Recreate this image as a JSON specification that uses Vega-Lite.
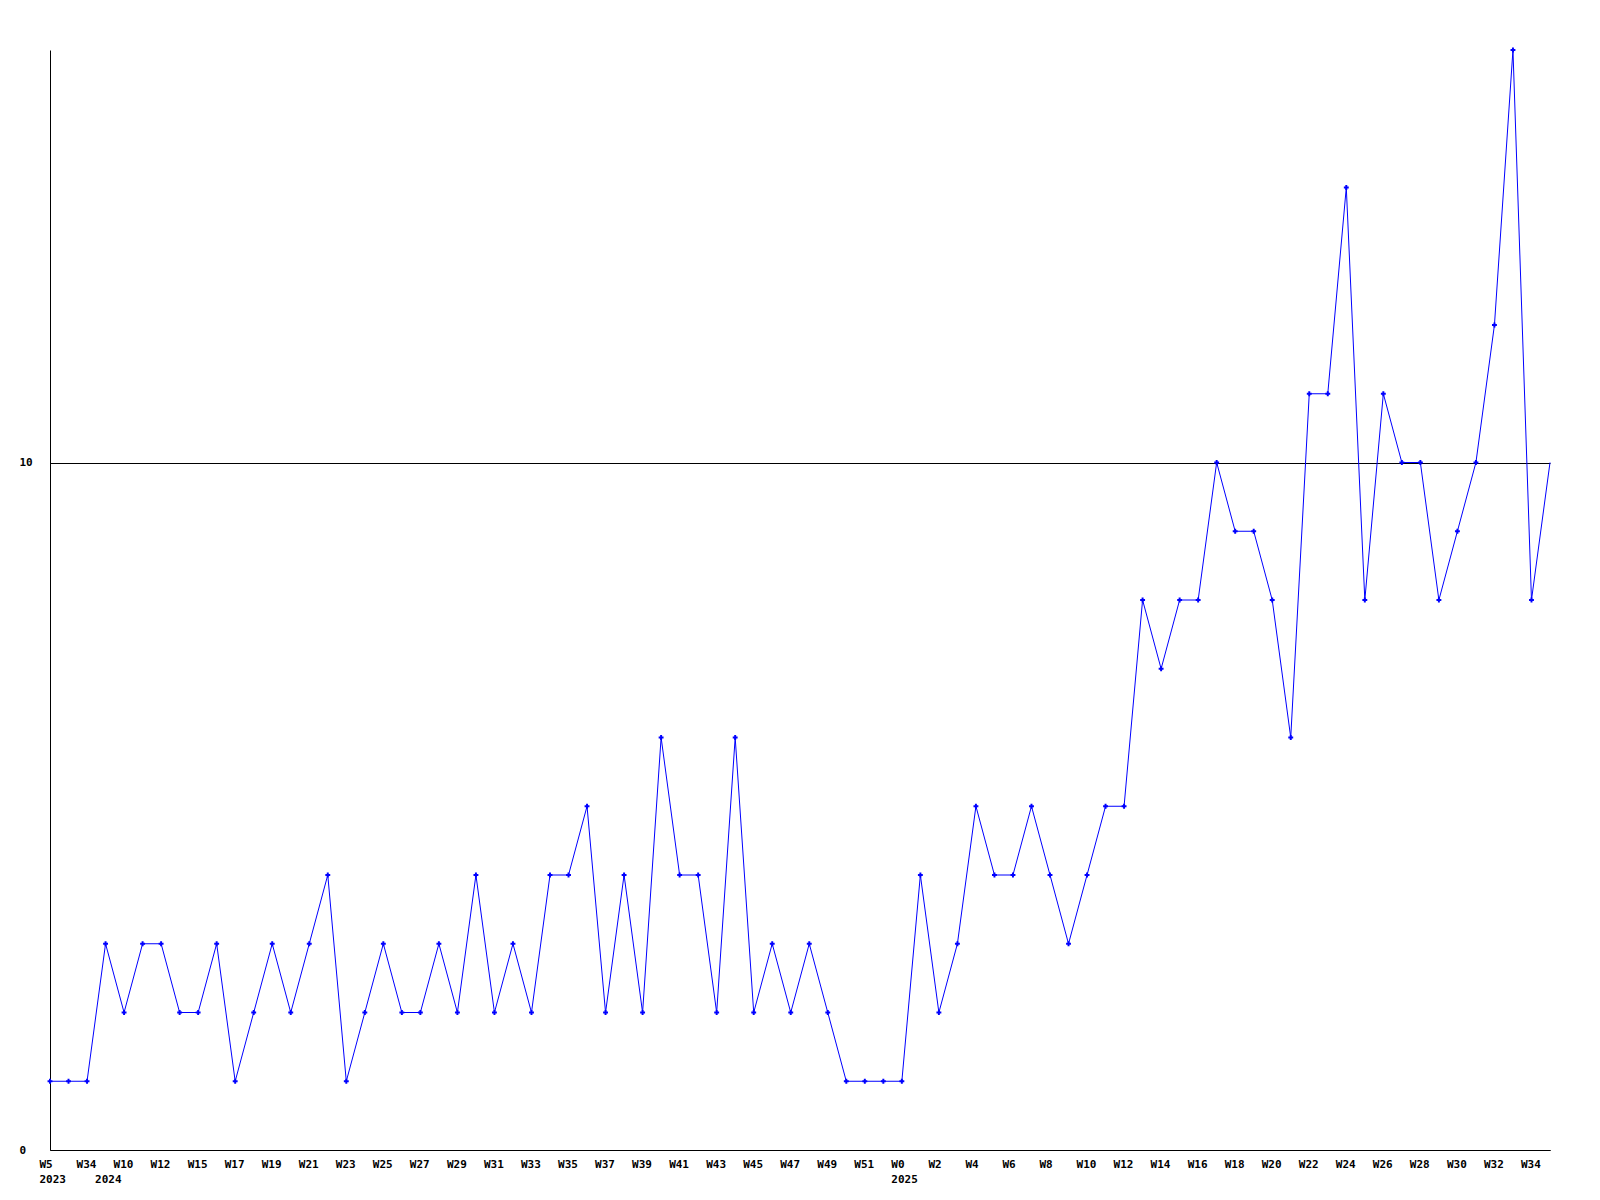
{
  "$schema": "https://vega.github.io/schema/vega-lite/v6.json",
  "width": 1500,
  "height": 1100,
  "autosize": "none",
  "padding": {"left": 50, "top": 50, "right": 50, "bottom": 50},
  "background": "white",
  "config": {
    "view": {"stroke": null},
    "font": "DejaVu Sans Mono"
  },
  "data": {
    "values": [
      {"week": "2023-W5", "count": 1},
      {"week": "2023-W33", "count": 1},
      {"week": "2023-W34", "count": 1},
      {"week": "2024-W9", "count": 3},
      {"week": "2024-W10", "count": 2},
      {"week": "2024-W11", "count": 3},
      {"week": "2024-W12", "count": 3},
      {"week": "2024-W13", "count": 2},
      {"week": "2024-W15", "count": 2},
      {"week": "2024-W16", "count": 3},
      {"week": "2024-W17", "count": 1},
      {"week": "2024-W18", "count": 2},
      {"week": "2024-W19", "count": 3},
      {"week": "2024-W20", "count": 2},
      {"week": "2024-W21", "count": 3},
      {"week": "2024-W22", "count": 4},
      {"week": "2024-W23", "count": 1},
      {"week": "2024-W24", "count": 2},
      {"week": "2024-W25", "count": 3},
      {"week": "2024-W26", "count": 2},
      {"week": "2024-W27", "count": 2},
      {"week": "2024-W28", "count": 3},
      {"week": "2024-W29", "count": 2},
      {"week": "2024-W30", "count": 4},
      {"week": "2024-W31", "count": 2},
      {"week": "2024-W32", "count": 3},
      {"week": "2024-W33", "count": 2},
      {"week": "2024-W34", "count": 4},
      {"week": "2024-W35", "count": 4},
      {"week": "2024-W36", "count": 5},
      {"week": "2024-W37", "count": 2},
      {"week": "2024-W38", "count": 4},
      {"week": "2024-W39", "count": 2},
      {"week": "2024-W40", "count": 6},
      {"week": "2024-W41", "count": 4},
      {"week": "2024-W42", "count": 4},
      {"week": "2024-W43", "count": 2},
      {"week": "2024-W44", "count": 6},
      {"week": "2024-W45", "count": 2},
      {"week": "2024-W46", "count": 3},
      {"week": "2024-W47", "count": 2},
      {"week": "2024-W48", "count": 3},
      {"week": "2024-W49", "count": 2},
      {"week": "2024-W50", "count": 1},
      {"week": "2024-W51", "count": 1},
      {"week": "2024-W52", "count": 1},
      {"week": "2025-W0", "count": 1},
      {"week": "2025-W1", "count": 4},
      {"week": "2025-W2", "count": 2},
      {"week": "2025-W3", "count": 3},
      {"week": "2025-W4", "count": 5},
      {"week": "2025-W5", "count": 4},
      {"week": "2025-W6", "count": 4},
      {"week": "2025-W7", "count": 5},
      {"week": "2025-W8", "count": 4},
      {"week": "2025-W9", "count": 3},
      {"week": "2025-W10", "count": 4},
      {"week": "2025-W11", "count": 5},
      {"week": "2025-W12", "count": 5},
      {"week": "2025-W13", "count": 8},
      {"week": "2025-W14", "count": 7},
      {"week": "2025-W15", "count": 8},
      {"week": "2025-W16", "count": 8},
      {"week": "2025-W17", "count": 10},
      {"week": "2025-W18", "count": 9},
      {"week": "2025-W19", "count": 9},
      {"week": "2025-W20", "count": 8},
      {"week": "2025-W21", "count": 6},
      {"week": "2025-W22", "count": 11},
      {"week": "2025-W23", "count": 11},
      {"week": "2025-W24", "count": 14},
      {"week": "2025-W25", "count": 8},
      {"week": "2025-W26", "count": 11},
      {"week": "2025-W27", "count": 10},
      {"week": "2025-W28", "count": 10},
      {"week": "2025-W29", "count": 8},
      {"week": "2025-W30", "count": 9},
      {"week": "2025-W31", "count": 10},
      {"week": "2025-W32", "count": 12},
      {"week": "2025-W33", "count": 16},
      {"week": "2025-W34", "count": 8},
      {"week": "2025-W35", "count": 10}
    ]
  },
  "encoding": {
    "x": {
      "field": "week",
      "type": "ordinal",
      "sort": null,
      "scale": {"type": "point", "padding": 0},
      "title": null,
      "axis": {
        "values": ["2023-W5", "2023-W34", "2024-W9", "2024-W10", "2024-W12", "2024-W15", "2024-W17", "2024-W19", "2024-W21", "2024-W23", "2024-W25", "2024-W27", "2024-W29", "2024-W31", "2024-W33", "2024-W35", "2024-W37", "2024-W39", "2024-W41", "2024-W43", "2024-W45", "2024-W47", "2024-W49", "2024-W51", "2025-W0", "2025-W2", "2025-W4", "2025-W6", "2025-W8", "2025-W10", "2025-W12", "2025-W14", "2025-W16", "2025-W18", "2025-W20", "2025-W22", "2025-W24", "2025-W26", "2025-W28", "2025-W30", "2025-W32", "2025-W34"],
        "labelExpr": "datum.value == '2024-W9' ? ['', '2024'] : (datum.value == '2023-W5' || datum.value == '2025-W0') ? [substring(datum.value, 5), substring(datum.value, 0, 4)] : substring(datum.value, 5)",
        "labelAngle": 0,
        "labelAlign": "left",
        "labelBaseline": "top",
        "labelOffset": -11,
        "labelPadding": 8,
        "labelLineHeight": 15,
        "labelFont": "DejaVu Sans Mono",
        "labelFontWeight": "bold",
        "labelFontSize": 11,
        "labelColor": "black",
        "labelOverlap": false,
        "labelBound": false,
        "labelFlush": false,
        "ticks": false,
        "domainColor": "black",
        "domainWidth": 1,
        "grid": false
      }
    },
    "y": {
      "field": "count",
      "type": "quantitative",
      "scale": {"domain": [0, 16], "nice": false, "zero": true},
      "title": null,
      "axis": {
        "values": [0, 10],
        "labelAlign": "left",
        "labelBaseline": "middle",
        "labelPadding": 31,
        "labelFont": "DejaVu Sans Mono",
        "labelFontWeight": "bold",
        "labelFontSize": 11,
        "labelColor": "black",
        "ticks": false,
        "domainColor": "black",
        "domainWidth": 1,
        "grid": true,
        "gridColor": "black",
        "gridOpacity": 1,
        "gridWidth": 1
      }
    }
  },
  "layer": [
    {
      "mark": {"type": "line", "color": "#0000ff", "strokeWidth": 1}
    },
    {
      "transform": [{"filter": "datum.week != '2025-W35'"}],
      "mark": {"type": "point", "shape": "cross", "filled": true, "color": "#0000ff", "size": 24, "opacity": 1}
    }
  ]
}
